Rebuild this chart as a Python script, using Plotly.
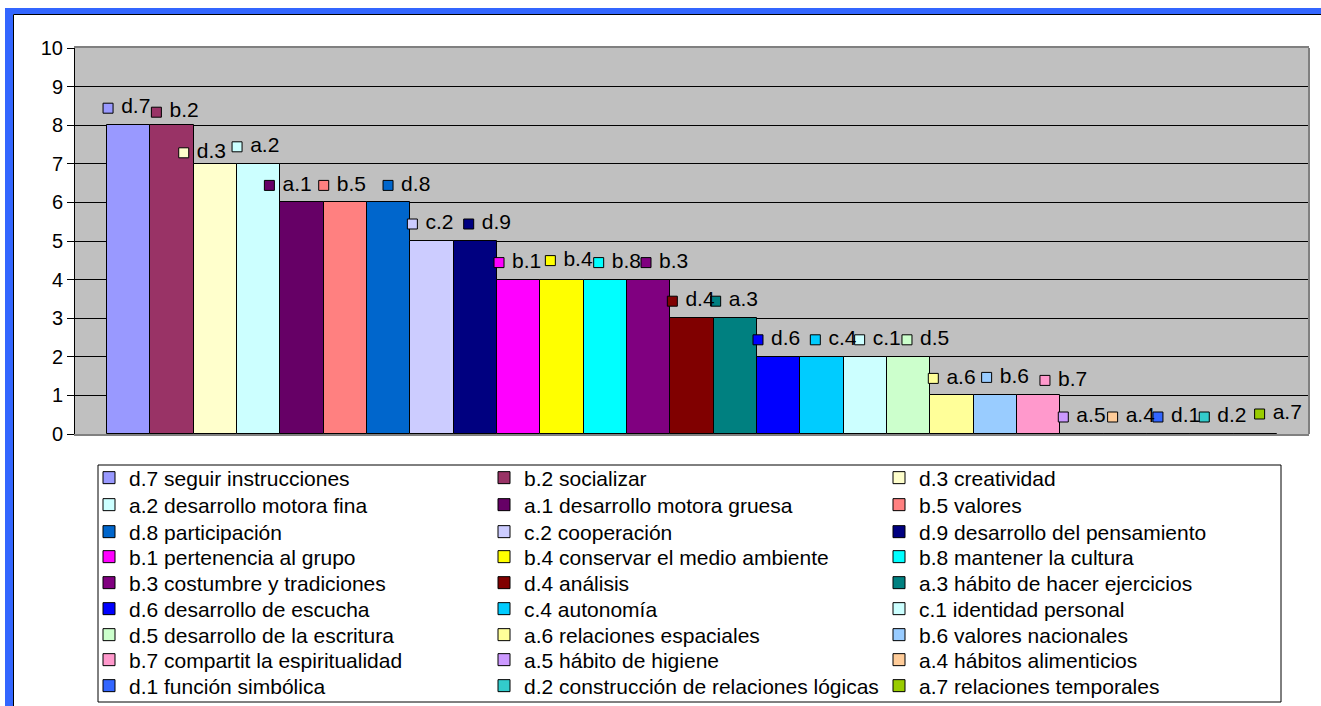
import plotly.graph_objects as go

codes = ["d.7", "b.2", "d.3", "a.2", "a.1", "b.5", "d.8", "c.2", "d.9",
         "b.1", "b.4", "b.8", "b.3", "d.4", "a.3", "d.6", "c.4", "c.1",
         "d.5", "a.6", "b.6", "b.7", "a.5", "a.4", "d.1", "d.2", "a.7"]
descriptions = ["seguir instrucciones", "socializar", "creatividad",
                "desarrollo motora fina", "desarrollo motora gruesa", "valores",
                "participación", "cooperación", "desarrollo del pensamiento",
                "pertenencia al grupo", "conservar el medio ambiente", "mantener la cultura",
                "costumbre y tradiciones", "análisis", "hábito de hacer ejercicios",
                "desarrollo de escucha", "autonomía", "identidad personal",
                "desarrollo de la escritura", "relaciones espaciales", "valores nacionales",
                "compartit la espiritualidad", "hábito de higiene", "hábitos alimenticios",
                "función simbólica", "construcción de relaciones lógicas", "relaciones temporales"]
values = [8, 8, 7, 7, 6, 6, 6, 5, 5, 4, 4, 4, 4, 3, 3, 2, 2, 2, 2, 1, 1, 1, 0, 0, 0, 0, 0]

# excel 2003 default series palette
colors = ["#9999FF", "#993366", "#FFFFCC", "#CCFFFF", "#660066", "#FF8080", "#0066CC",
          "#CCCCFF", "#000080", "#FF00FF", "#FFFF00", "#00FFFF", "#800080", "#800000",
          "#008080", "#0000FF", "#00CCFF", "#CCFFFF", "#CCFFCC", "#FFFF99", "#99CCFF",
          "#FF99CC", "#CC99FF", "#FFCC99", "#3366FF", "#33CCCC", "#99CC00"]

# hand-placed data labels in the original: (px from bar left, px above bar top)
label_nudge = [(-4, 17), (1, 13), (-15, 11), (-5, 17), (-16, 17), (-5, 17), (16, 17),
               (-3, 17), (10, 17), (-3, 17), (5, 19), (10, 17), (14, 17), (-3, 17),
               (-3, 17), (-4, 17), (10, 17), (11, 17), (15, 17), (-2, 17), (8, 18),
               (23, 15), (-2, 17), (4, 17), (6, 17), (9, 17), (21, 20)]

FONT = "Liberation Sans, Arial, sans-serif"
W, H = 1321, 706
L, R, T, B = 75, 1309, 48, 434          # plot area in px
BAR_PX = (R - L) / 28.48
UNIT_PX = (B - T) / 10


# paper spans the whole figure (zero margins), so these map page px to paper
def px(x):
    return x / W


def py(y):
    return 1 - y / H


fig = go.Figure()

for i, (c, d, v, col) in enumerate(zip(codes, descriptions, values, colors)):
    row = i // 3
    fig.add_trace(go.Bar(
        x=[i], y=[v], width=1, name=f"{c} {d}",
        marker=dict(color=col, line=dict(color="black", width=1)),
        legend="legend" if row == 0 else f"legend{row + 1}",
    ))

lx = [i - 0.5 + (dx + 5) / BAR_PX for i, (dx, dy) in enumerate(label_nudge)]
ly = [v + dy / UNIT_PX for v, (dx, dy) in zip(values, label_nudge)]
fig.add_trace(go.Scatter(
    x=lx, y=ly, mode="markers+text", text=["\u00a0" + c for c in codes],
    textposition="middle right",
    textfont=dict(size=21, color="black", family=FONT),
    marker=dict(symbol="square", size=10, color=colors, line=dict(color="black", width=1)),
    showlegend=False, hoverinfo="skip", cliponaxis=False,
))

legend_rows = [478, 505, 532, 557, 583, 609, 635, 660, 686]
legends = {}
for k, yc in enumerate(legend_rows):
    key = "legend" if k == 0 else f"legend{k + 1}"
    legends[key] = dict(
        orientation="h", x=px(89), y=py(yc), xanchor="left", yanchor="middle",
        entrywidth=350, entrywidthmode="pixels", traceorder="normal",
        font=dict(size=21, color="black", family=FONT),
        bgcolor="rgba(0,0,0,0)", borderwidth=0,
    )

shapes = [
    # plot area right edge
    dict(type="line", xref="x domain", yref="y domain", x0=1, x1=1, y0=0, y1=1,
         line=dict(color="#808080", width=2)),
    # legend box
    dict(type="rect", xref="paper", yref="paper", x0=px(98), x1=px(1281), y0=py(465), y1=py(702),
         line=dict(color="black", width=1)),
    # blue outer frame
    dict(type="rect", xref="paper", yref="paper", x0=px(5), x1=px(13), y0=py(720), y1=py(8),
         fillcolor="#3366FF", line=dict(width=0)),
    dict(type="rect", xref="paper", yref="paper", x0=px(5), x1=px(1325), y0=py(14), y1=py(8),
         fillcolor="#3366FF", line=dict(width=0)),
    dict(type="line", xref="paper", yref="paper", x0=px(13.5), x1=px(13.5), y0=py(720), y1=py(14.5),
         line=dict(color="black", width=1)),
    dict(type="line", xref="paper", yref="paper", x0=px(13.5), x1=px(1325), y0=py(14.5), y1=py(14.5),
         line=dict(color="black", width=1)),
]

fig.update_layout(
    width=W, height=H,
    margin=dict(l=0, r=0, t=0, b=0, pad=0, autoexpand=False),
    paper_bgcolor="white", plot_bgcolor="#C0C0C0",
    barmode="overlay", bargap=0,
    font=dict(family=FONT, size=20, color="black"),
    shapes=shapes,
    **legends,
)
fig.update_xaxes(domain=[px(L), px(R)], range=[-1.24, 27.24], showticklabels=False, ticks="",
                 showgrid=False, zeroline=False, automargin=False,
                 showline=True, linecolor="#808080", linewidth=2, mirror=True)
fig.update_yaxes(domain=[py(B), py(T)], range=[0, 10], dtick=1, automargin=False,
                 showgrid=True, gridcolor="black", gridwidth=1,
                 zeroline=False, showline=True, linecolor="black", linewidth=1,
                 ticks="outside", ticklen=7, tickcolor="black",
                 tickfont=dict(size=20, family=FONT))

# pin the page to exactly the figure size, no body margin or scrollbars
page_fix = ("document.documentElement.style.overflow='hidden';"
            "document.body.style.margin='0';document.body.style.overflow='hidden';")
fig.write_html("out.html", config={"displayModeBar": False},
               default_width=f"{W}px", default_height=f"{H}px", post_script=page_fix)
